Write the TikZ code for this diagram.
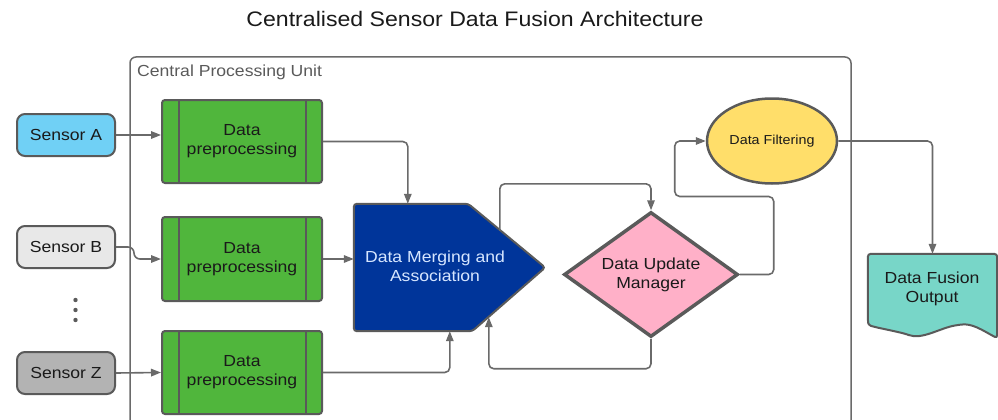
\documentclass[tikz,border=0pt]{standalone}
\usepackage{fontspec}
\setmainfont[FakeStretch=1.1]{Liberation Sans}
\usetikzlibrary{shapes.geometric,arrows.meta,calc}

\definecolor{edgegray}{HTML}{5A5A5A}
\definecolor{conngray}{HTML}{6A6A6A}
\definecolor{sensA}{HTML}{70D0F5}
\definecolor{sensB}{HTML}{E8E8E8}
\definecolor{sensZ}{HTML}{B3B3B3}
\definecolor{prepgreen}{HTML}{50B63C}
\definecolor{mergeblue}{HTML}{00359A}
\definecolor{mergetxt}{HTML}{D6E6FF}
\definecolor{updpink}{HTML}{FFB0C8}
\definecolor{filtyellow}{HTML}{FFDE6A}
\definecolor{outteal}{HTML}{78D6C8}
\definecolor{inktext}{HTML}{1A1A1A}

\tikzset{
  basefont/.style={font=\fontsize{16}{19}\selectfont, text=inktext, align=center},
  sensorbox/.style={basefont, draw=edgegray, line width=2pt, rounded corners=8pt,
    minimum width=98pt, minimum height=42pt, inner sep=0pt},
  prepbox/.style={basefont, draw=edgegray, line width=2pt, fill=prepgreen, rounded corners=3pt,
    minimum width=160pt, minimum height=83pt, inner sep=0pt,
    path picture={
      \draw[edgegray, line width=2pt]
        ([xshift=17pt]path picture bounding box.north west) -- ([xshift=17pt]path picture bounding box.south west)
        ([xshift=-16pt]path picture bounding box.north east) -- ([xshift=-16pt]path picture bounding box.south east);
    }},
  mergearea/.style={minimum width=191pt, minimum height=127pt, inner sep=0pt},
  mergeshape/.style={draw=edgegray, line width=2pt, fill=mergeblue, rounded corners=3pt},
  updatebox/.style={basefont, diamond, draw=edgegray, line width=3.5pt, fill=updpink,
    minimum width=174pt, minimum height=125pt, aspect=1.39, inner sep=0pt},
  filtbox/.style={ellipse, draw=edgegray, line width=2.5pt, fill=filtyellow,
    minimum width=130pt, minimum height=85pt, inner sep=0pt,
    font=\fontsize{13}{16}\selectfont, text=inktext},
  outarea/.style={minimum width=129pt, minimum height=84pt, inner sep=0pt},
  outshape/.style={draw=edgegray, line width=2pt, fill=outteal, rounded corners=3pt},
  conn/.style={draw=conngray, line width=1.6pt, rounded corners=5pt,
    -{Triangle[length=10pt,width=7.5pt]}},
  container/.style={draw=conngray, line width=1.5pt, rounded corners=6pt},
}

\begin{document}
\begin{tikzpicture}[x=1pt, y=-1pt]
  \useasboundingbox (0,0) rectangle (998,420);

  % title
  \node[font=\fontsize{21}{24}\selectfont, text=inktext] (title) at (475,19) {Centralised Sensor Data Fusion Architecture};

  % central processing unit frame (runs off the lower edge)
  \draw[container] (130,421) -- (130,57) -- (851,57) -- (851,421);
  \node[anchor=west, font=\fontsize{16}{19}\selectfont, text=edgegray, inner sep=0pt] (cpu) at (137,72) {Central Processing Unit};

  % sensors
  \node[sensorbox, fill=sensA] (sa) at (66,135) {Sensor A};
  \node[sensorbox, fill=sensB] (sb) at (66,247) {Sensor B};
  \node[sensorbox, fill=sensZ] (sz) at (66,373) {Sensor Z};
  \fill[edgegray] (75.5,300) circle (2.2) (75.5,310) circle (2.2) (75.5,320) circle (2.2);

  % preprocessing stages
  \node[prepbox] (p1) at (242,141.5) {Data\\preprocessing};
  \node[prepbox, minimum height=84pt] (p2) at (242,259) {Data\\preprocessing};
  \node[prepbox] (p3) at (242,372.5) {Data\\preprocessing};

  % merging and association (pentagon pointing east)
  \node[mergearea] (m) at (449.5,267.5) {};
  \draw[mergeshape] (m.north west) -- ([xshift=-77pt]m.north east) -- (m.east)
    -- ([xshift=-73pt]m.south east) -- (m.south west) -- cycle;
  \node[basefont, text=mergetxt] (mtext) at (435,266) {Data Merging and\\Association};
  \coordinate (mtop) at ([xshift=54pt]m.north west);
  \coordinate (mbot) at ([xshift=96pt]m.south west);
  \coordinate (mup) at ([xshift=146pt,yshift=-27pt]m.north west);
  \coordinate (mlow) at ([xshift=135pt,yshift=14pt]m.south west);

  % update manager
  \node[updatebox] (d) at (651,274.5) {Data Update\\Manager};

  % filtering
  \node[filtbox] (f) at (772,141) {Data Filtering};

  % output document
  \node[outarea] (out) at (932.5,296) {};
  \draw[outshape] (868,325) -- (out.north west) -- (out.north east) -- (out.south east)
    .. controls (982,330) and (972,323) .. (958,325)
    .. controls (940,328) and (922,340) .. (906,334)
    .. controls (890,330) and (878,328) .. (868,325) -- cycle;
  \node[basefont] (outtext) at (932,289) {Data Fusion\\Output};

  % connectors
  \draw[conn] (sa.east) -- (sa.east -| p1.west);
  \draw[conn, rounded corners=6pt] (sb.east) -- ++(18,0) |- (p2.west);
  \draw[conn] (sz.east) -- (p3.west);
  \draw[conn] (p1.east) -| (mtop);
  \draw[conn] (p2.east) -- (p2.east -| m.west);
  \draw[conn] (p3.east) -| (mbot);
  \draw[conn] (mup) -- ++(0,-47) -| (d.north);
  \draw[conn] (d.south) -- ++(0,30) -| (mlow);
  \draw[conn] (d.east) -- ++(34,0) -- ++(0,-78) -- ++(-99,0) |- (f.west);
  \draw[conn] (f.east) -| (out.north);
\end{tikzpicture}
\end{document}
